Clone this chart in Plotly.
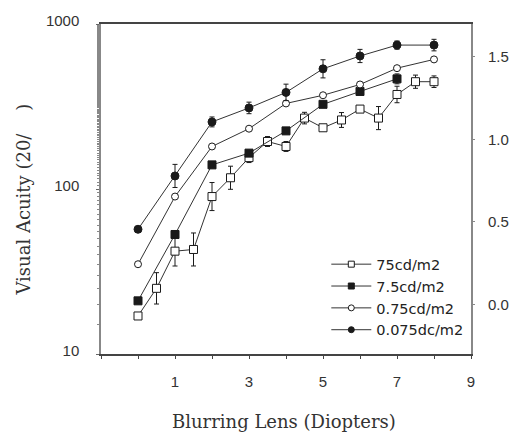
import numpy as np
import plotly.graph_objects as go

# Blurring lens power (diopters)
diopters = [0, 1, 2, 3, 4, 5, 6, 7, 8]
diopters_7_5 = [0, 1, 2, 3, 4, 5, 6, 7]
diopters_half = [0, 0.5, 1, 1.5, 2, 2.5, 3, 3.5, 4, 4.5, 5, 5.5, 6, 6.5, 7, 7.5, 8]

# Visual acuity denominators (20/x) for each luminance
va_75 = [17, 25, 42, 43, 90, 117, 155, 194, 181, 269, 235, 262, 305, 269, 374, 447, 447]
va_7_5 = [21, 53, 140, 165, 225, 326, 390, 465]
va_0_75 = [35, 90, 181, 232, 330, 370, 430, 540, 610]
va_0_075 = [57, 120, 255, 310, 385, 535, 640, 745, 745]

# Error bar half-widths in log10 units
err_75 = [0.02, 0.095, 0.09, 0.1, 0.085, 0.07, 0.03, 0.03, 0.03, 0.035, 0.0, 0.045, 0.0, 0.07, 0.05, 0.04, 0.035]
err_7_5 = [0, 0, 0, 0, 0, 0, 0, 0.03]
err_0_075 = [0, 0.07, 0.03, 0.035, 0.05, 0.055, 0.04, 0.025, 0.035]

# Right axis: logMAR values
logmar_ticks = [0.0, 0.5, 1.0, 1.5]
logmar_labels = ["0.0", "0.5", "1.0", "1.5"]

x_ticks = [1, 3, 5, 7, 9]
y_ticks = [10, 100, 1000]

INK = "#1a1a1a"


def err_arrays(vals, errs):
    v = np.asarray(vals, dtype=float)
    e = np.asarray(errs, dtype=float)
    return v * (10 ** e - 1), v * (1 - 10 ** (-e))


fig = go.Figure()

series = [
    ("75cd/m2", diopters_half, va_75, err_75, "square", "white", 8),
    ("7.5cd/m2", diopters_7_5, va_7_5, err_7_5, "square", INK, 8),
    ("0.75cd/m2", diopters, va_0_75, None, "circle", "white", 7),
    ("0.075dc/m2", diopters, va_0_075, err_0_075, "circle", INK, 8),
]

for name, xs, ys, errs, sym, fill, size in series:
    err_y = None
    if errs is not None:
        up, down = err_arrays(ys, errs)
        err_y = dict(type="data", symmetric=False, array=up, arrayminus=down,
                     color=INK, thickness=1, width=2.5)
    fig.add_trace(go.Scatter(
        x=xs, y=ys, name=name, mode="lines+markers", showlegend=False,
        line=dict(color="#333", width=1),
        marker=dict(symbol=sym, size=size, color=fill, line=dict(color=INK, width=1)),
        error_y=err_y,
    ))

# Legend entries with smaller marker glyphs
for name, xs, ys, errs, sym, fill, size in series:
    fig.add_trace(go.Scatter(
        x=[None], y=[None], name=name, mode="lines+markers",
        line=dict(color="#333", width=1),
        marker=dict(symbol=sym, size=6, color=fill, line=dict(color=INK, width=1)),
    ))

# Invisible trace carrying the logMAR axis
fig.add_trace(go.Scatter(x=[None], y=[None], yaxis="y2", showlegend=False))

L, R, T, B = 101, 39, 17, 80
W, H = 521, 434
pw, ph = W - L - R, H - T - B

fig.update_layout(
    width=W, height=H,
    margin=dict(l=L, r=R, t=T, b=B),
    paper_bgcolor="white", plot_bgcolor="white",
    font=dict(family="Liberation Sans", size=15, color="#333"),
    showlegend=True,
    legend=dict(
        x=(333 - L) / pw, y=(354 - 246) / ph, xanchor="left", yanchor="top",
        bgcolor="rgba(0,0,0,0)", borderwidth=0,
        font=dict(family="DejaVu Sans", size=14.5, color="#222"),
        itemwidth=40, tracegroupgap=0,
    ),
    xaxis=dict(
        range=[-1, 9], tickvals=x_ticks, ticktext=[str(v) for v in x_ticks],
        showgrid=False, zeroline=False,
        showline=True, linecolor="#444", linewidth=1.5, mirror=True,
        ticks="outside", ticklen=3, tickcolor="#444",
        minor=dict(dtick=1, tick0=0, ticks="outside", ticklen=3, tickcolor="#444"),
        ticklabelstandoff=10,
    ),
    yaxis=dict(
        type="log", range=[1, 3], tickvals=y_ticks, ticktext=[str(v) for v in y_ticks],
        showgrid=False, zeroline=False,
        showline=True, linecolor="#888", linewidth=1.5, mirror=True,
        ticks="outside", ticklen=3, tickcolor="#666",
        minor=dict(ticks="outside", ticklen=2, tickcolor="#888", showgrid=False),
        ticklabelstandoff=14, ticklabelshift=-3,
    ),
    yaxis2=dict(
        type="log", range=[1, 3], overlaying="y", side="right",
        tickvals=[20 * 10 ** m for m in logmar_ticks], ticktext=logmar_labels,
        showgrid=False, zeroline=False, showline=False,
        ticks="outside", ticklen=3, tickcolor="#888",
        ticklabelstandoff=10,
    ),
    annotations=[
        dict(text="Blurring Lens (Diopters)", xref="paper", yref="paper",
             x=(289 - L) / pw, y=(354 - 423) / ph, xanchor="center", yanchor="middle",
             showarrow=False, font=dict(family="DejaVu Serif", size=18, color="#333")),
        dict(text="Visual Acuity (20/&nbsp;&nbsp;&nbsp;&nbsp;)", xref="paper", yref="paper",
             x=(21 - L) / pw, y=(354 - 196) / ph, xanchor="center", yanchor="middle",
             textangle=-90, showarrow=False,
             font=dict(family="DejaVu Serif", size=18, color="#333")),
    ],
)

fig.write_html("out.html")
